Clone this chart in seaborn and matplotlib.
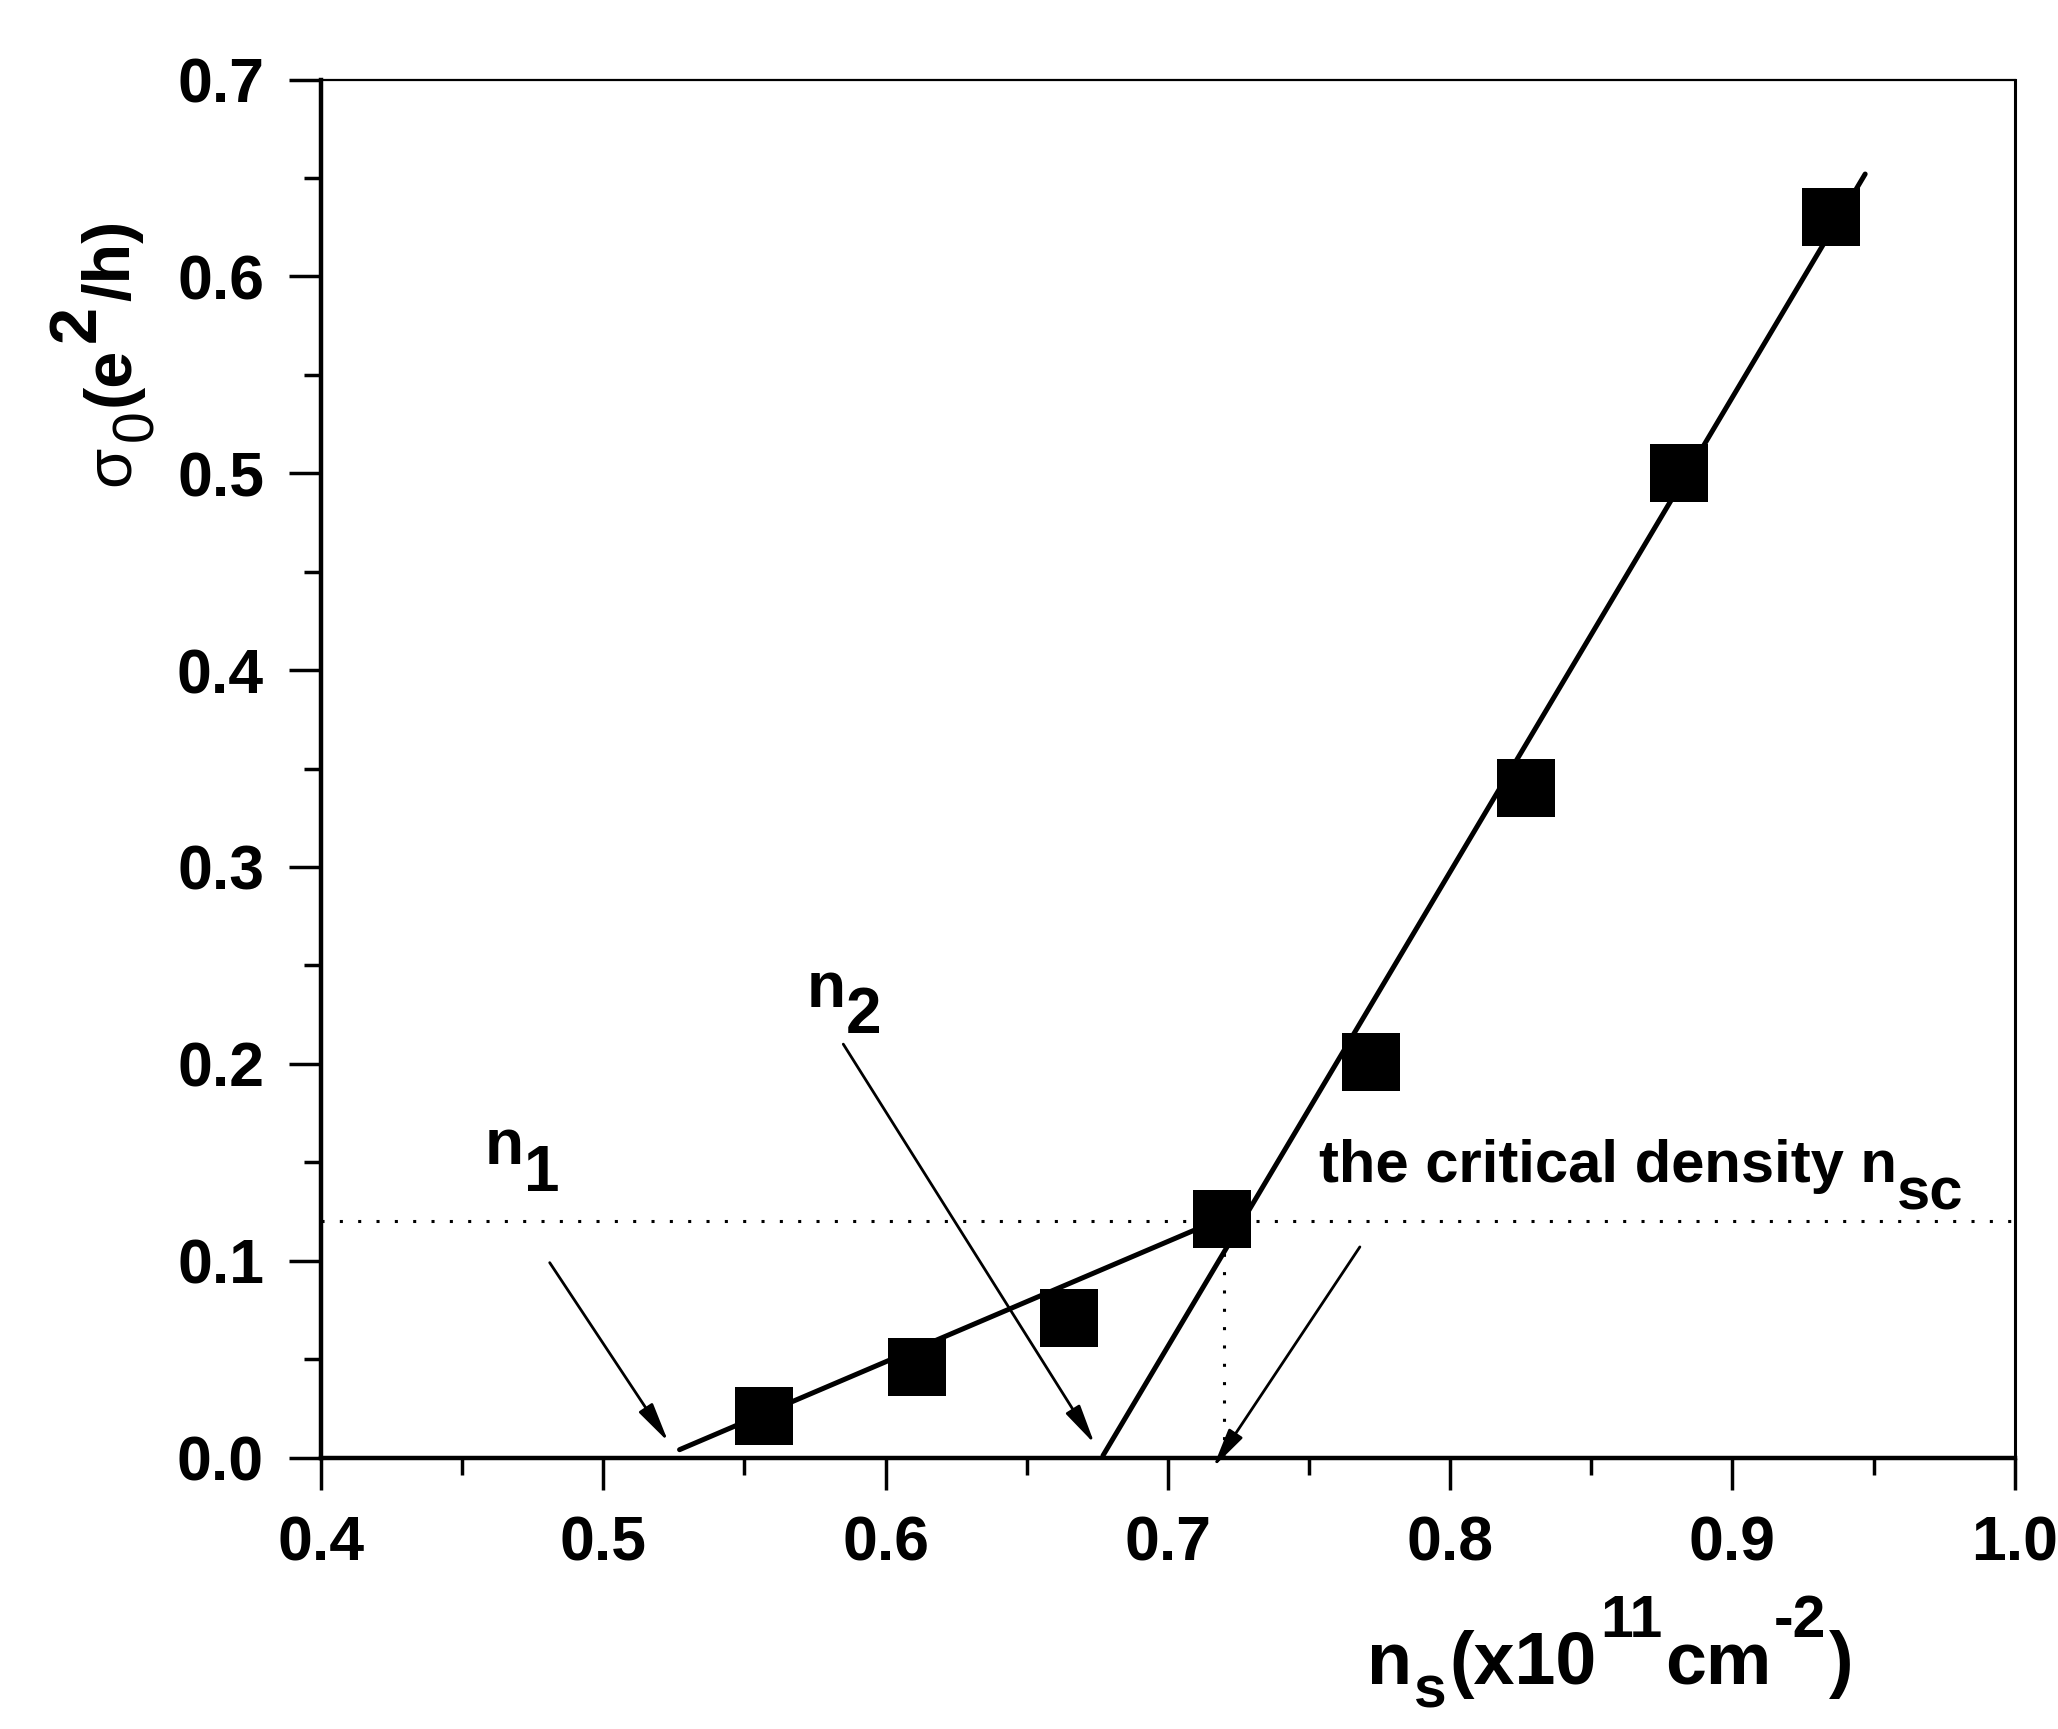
import matplotlib
matplotlib.use("Agg")
import matplotlib.pyplot as plt
import seaborn as sns
import pandas as pd
from matplotlib import font_manager
from matplotlib.ticker import MultipleLocator
from matplotlib.transforms import offset_copy

# data
ns = [0.557, 0.611, 0.665, 0.719, 0.772, 0.827, 0.881, 0.935]
sigma0 = [0.021, 0.046, 0.071, 0.121, 0.201, 0.340, 0.500, 0.630]

# the two linear fits (end points)
fit1_x = [0.527, 0.720]
fit1_y = [0.004, 0.122]
fit2_x = [0.677, 0.947]
fit2_y = [0.001, 0.652]

sigma_c = 0.12
ns_c = 0.72

xticks = [0.4, 0.5, 0.6, 0.7, 0.8, 0.9, 1.0]
xtick_labels = ["0.4", "0.5", "0.6", "0.7", "0.8", "0.9", "1.0"]
yticks = [0.0, 0.1, 0.2, 0.3, 0.4, 0.5, 0.6, 0.7]
ytick_labels = ["0.0", "0.1", "0.2", "0.3", "0.4", "0.5", "0.6", "0.7"]

# arrows: (text start, arrow tip)
arrow_n1 = ((0.481, 0.099), (0.523, 0.008))
arrow_n2 = ((0.585, 0.210), (0.674, 0.007))
arrow_c = ((0.768, 0.107), (0.716, -0.005))

sns.set_style("ticks")
plt.rcParams["font.family"] = ["Liberation Sans", "DejaVu Sans"]
plt.rcParams["font.weight"] = "bold"
for key in ["text.color", "axes.labelcolor", "xtick.color", "ytick.color", "axes.edgecolor"]:
    plt.rcParams[key] = "black"

# narrow face for the x label if it is there
try:
    font_manager.findfont(font_manager.FontProperties(family="Liberation Sans Narrow", weight="bold"),
                          fallback_to_default=False)
    xlab_family = ["Liberation Sans Narrow", "Liberation Sans"]
    xlab_size = 62
except ValueError:
    xlab_family = ["Liberation Sans", "DejaVu Sans"]
    xlab_size = 53

df = pd.DataFrame({"ns": ns, "sigma0": sigma0})

fig = plt.figure(figsize=(20.58, 17.29), dpi=100)
ax = fig.add_axes([0.156, 0.157, 0.823, 0.797])


def rich_text(pieces, x, y, transform, rotation=0, gap=0.0, family=None):
    """Put text pieces one after another; each piece = (text, shift_pt, size, weight)."""
    renderer = fig.canvas.get_renderer()
    adv = 0.0
    for s, shift, size, weight in pieces:
        if rotation == 0:
            tr = offset_copy(transform, fig=fig, x=adv, y=shift, units="points")
        else:
            tr = offset_copy(transform, fig=fig, x=-shift, y=adv, units="points")
        kw = {} if family is None else {"family": family}
        t = ax.text(x, y, s, transform=tr, fontsize=size, fontweight=weight,
                    rotation=rotation, rotation_mode="anchor", ha="left",
                    va="baseline", clip_on=False, **kw)
        bb = t.get_window_extent(renderer)
        adv += (bb.width if rotation == 0 else bb.height) * 72.0 / fig.dpi + gap


# fits
sns.lineplot(x=fit1_x, y=fit1_y, ax=ax, color="black", lw=3.6, sort=False)
sns.lineplot(x=fit2_x, y=fit2_y, ax=ax, color="black", lw=3.6, sort=False)

# dotted guides
ax.axhline(sigma_c, color="black", lw=2.2, ls=(0, (1, 5)), zorder=1)
ax.plot([ns_c, ns_c], [0, sigma_c], color="black", lw=2.2, ls=(0, (1, 5)), zorder=1)

# data points
sns.scatterplot(data=df, x="ns", y="sigma0", ax=ax, marker="s", s=1750,
                color="black", linewidth=0, zorder=3)
ax.set_xlabel("")
ax.set_ylabel("")

# arrows
aprops = dict(arrowstyle="-|>,head_length=1.2,head_width=0.25", mutation_scale=20,
              lw=2, color="black", shrinkA=0, shrinkB=0)
for start, tip in [arrow_n1, arrow_n2, arrow_c]:
    ax.annotate("", xy=tip, xytext=start, arrowprops=aprops, annotation_clip=False)

ax.set_xlim(0.4, 1.0)
ax.set_ylim(0.0, 0.7)
ax.set_xticks(xticks, xtick_labels)
ax.set_yticks(yticks, ytick_labels)
ax.xaxis.set_minor_locator(MultipleLocator(0.05))
ax.yaxis.set_minor_locator(MultipleLocator(0.05))
ax.tick_params(which="major", direction="out", length=23, width=2.5,
               labelsize=45, pad=18, top=False, right=False)
ax.tick_params(which="minor", direction="out", length=12, width=2.5,
               top=False, right=False)
for lab in ax.get_xticklabels() + ax.get_yticklabels():
    lab.set_fontweight("bold")

for side in ["left", "bottom"]:
    ax.spines[side].set_linewidth(3.2)
ax.spines["right"].set_linewidth(2.2)
ax.spines["top"].set_linewidth(1.6)

# annotations with full-size subscripts
rich_text([("n", 0, 46, "bold"), ("1", -19, 46, "bold")], 0.458, 0.149, ax.transData)
rich_text([("n", 0, 46, "bold"), ("2", -19, 46, "bold")], 0.572, 0.229, ax.transData)
rich_text([("the critical density n", 0, 43, "bold"), ("sc", -20, 43, "bold")],
          0.7535, 0.140, ax.transData)

# axis labels (x label sits low, near the bottom edge as in the original)
rich_text([("n", 0, xlab_size, "bold"), ("s", -17, xlab_size * 0.8, "bold"),
           ("(x10", 0, xlab_size, "bold"), ("11", 34, xlab_size * 0.8, "bold"),
           ("cm", 0, xlab_size, "bold"), ("-2", 34, xlab_size * 0.8, "bold"),
           (")", 0, xlab_size, "bold")],
          0.664, 0.026, fig.transFigure, gap=2, family=xlab_family)
rich_text([("σ", 0, 47, "normal"), ("0", -17, 41, "normal"),
           ("(e", 0, 48, "bold"), ("2", 25, 48, "bold"),
           ("/h)", 0, 48, "bold")],
          0.0627, 0.719, fig.transFigure, rotation=90, gap=3)

fig.savefig("out.png", dpi=100)
